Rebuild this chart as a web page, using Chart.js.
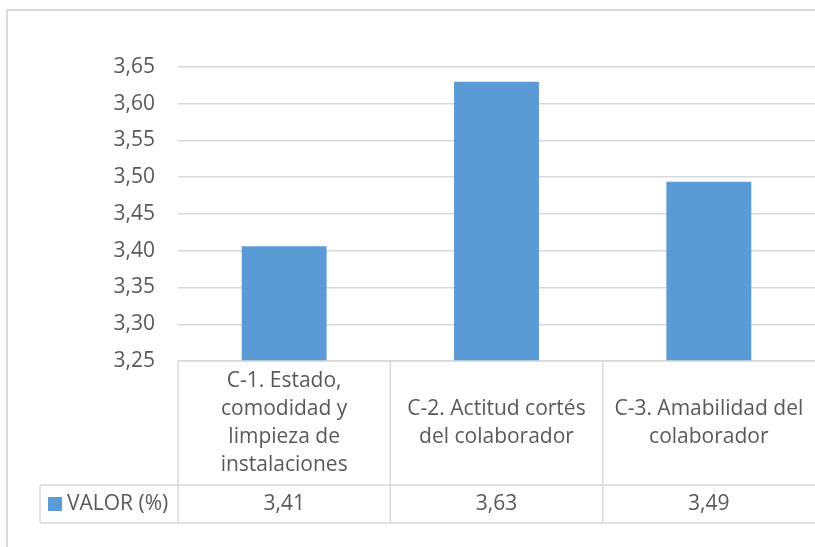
<!DOCTYPE html>
<html>
<head>
<meta charset="utf-8">
<script src="https://cdn.jsdelivr.net/npm/chart.js@4"></script>
<style>
html,body{margin:0;padding:0;background:#fff;}
#wrap{width:815px;height:547px;position:relative;}
canvas{display:block;}
</style>
</head>
<body>
<div id="wrap"><canvas id="c" width="815" height="547"></canvas></div>
<script>
// ---- data ----
const categories = [
  ["C-1. Estado,", "comodidad y", "limpieza de", "instalaciones"],
  ["C-2. Actitud cortés", "del colaborador"],
  ["C-3. Amabilidad del", "colaborador"]
];
const values = [3.406, 3.63, 3.494];
const seriesName = "VALOR (%)";
const yMin = 3.25, yMax = 3.65, yStep = 0.05;

const FONT = "'Open Sans', sans-serif";
const TXT = "#595959";
const LINE = "#d9d9d9";
const BAR = "#5b9bd5";

const fmt = v => v.toFixed(2).replace('.', ',');

const tablePlugin = {
  id: 'dataTable',
  beforeDraw(chart) {
    const ctx = chart.ctx;
    ctx.save();
    ctx.strokeStyle = LINE;
    ctx.lineWidth = 2;
    ctx.beginPath();
    ctx.moveTo(7, 547);
    ctx.lineTo(7, 10);
    ctx.lineTo(815, 10);
    ctx.stroke();
    ctx.restore();
  },
  afterDraw(chart) {
    const ctx = chart.ctx;
    const x = chart.scales.x;
    const area = chart.chartArea;
    const top = area.bottom;        // table top line
    const mid = top + 124;          // between header row and value row
    const bot = mid + 38;           // bottom line
    const legendLeft = 40;
    const n = categories.length;
    const colW = (area.right - area.left) / n;
    ctx.save();
    ctx.strokeStyle = LINE;
    ctx.lineWidth = 1.5;
    ctx.beginPath();
    ctx.moveTo(area.left, top); ctx.lineTo(area.right, top);
    ctx.moveTo(legendLeft, mid); ctx.lineTo(area.right, mid);
    ctx.moveTo(legendLeft, bot); ctx.lineTo(area.right, bot);
    ctx.moveTo(legendLeft, mid); ctx.lineTo(legendLeft, bot);
    for (let i = 0; i < n; i++) {
      const xx = area.left + i * colW;
      ctx.moveTo(xx, top); ctx.lineTo(xx, bot);
    }
    ctx.stroke();

    ctx.fillStyle = TXT;
    ctx.font = "21px " + FONT;
    ctx.textAlign = 'center';
    ctx.textBaseline = 'middle';
    const lh = 28;
    categories.forEach((lines, i) => {
      const cx = x.getPixelForValue(i);
      const cy = (top + mid) / 2;
      const start = cy - (lines.length - 1) * lh / 2;
      lines.forEach((ln, j) => ctx.fillText(ln, cx, start + j * lh));
      ctx.fillText(fmt(values[i]), cx, (mid + bot) / 2);
    });
    ctx.fillStyle = BAR;
    ctx.fillRect(48, (mid + bot) / 2 - 7, 14, 14);
    ctx.fillStyle = TXT;
    ctx.textAlign = 'left';
    ctx.fillText(seriesName, 67, (mid + bot) / 2);
    ctx.restore();
  }
};

new Chart(document.getElementById('c'), {
  type: 'bar',
  data: {
    labels: categories,
    datasets: [{
      label: seriesName,
      data: values,
      backgroundColor: BAR,
      borderWidth: 0,
      barPercentage: 0.4,
      categoryPercentage: 1.0
    }]
  },
  options: {
    responsive: false,
    devicePixelRatio: 1,
    animation: false,
    layout: { padding: { left: 0, right: 0, top: 67, bottom: 186 } },
    plugins: { legend: { display: false }, tooltip: { enabled: false } },
    scales: {
      x: { display: false },
      y: {
        min: yMin, max: yMax,
        afterFit(s) { s.width = 178; },
        border: { display: false },
        grid: { color: LINE, lineWidth: 1.5, drawTicks: false },
        ticks: {
          stepSize: yStep,
          padding: 23,
          color: TXT,
          font: { family: FONT, size: 21 },
          callback: v => fmt(v)
        }
      }
    }
  },
  plugins: [tablePlugin]
});
</script>
</body>
</html>
